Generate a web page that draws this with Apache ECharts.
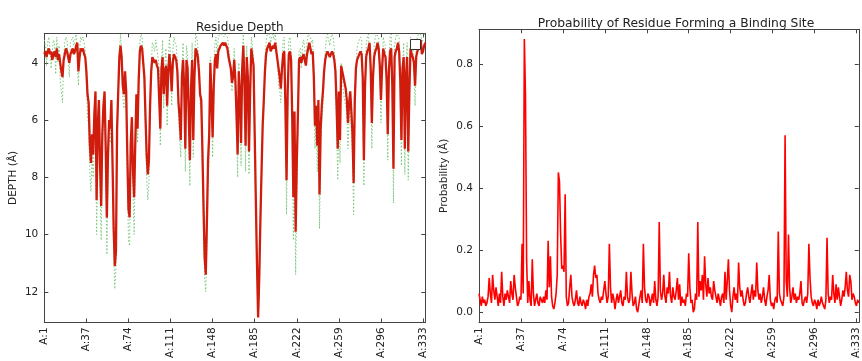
<!DOCTYPE html>
<html>
<head>
<meta charset="utf-8">
<script src="https://cdn.jsdelivr.net/npm/echarts@6/dist/echarts.min.js"></script>
<style>html,body{margin:0;padding:0;background:#fff}#c{width:862px;height:361px}</style>
</head>
<body>
<div id="c"></div>
<script>
// Residue depth (red solid line), index 0..335
const depthMain = [
3.7,3.6,3.8,3.6,3.5,3.7,3.6,3.9,3.7,3.6,
3.8,3.5,3.9,3.7,4.0,4.3,4.5,3.9,3.7,3.5,
3.6,3.8,4.0,3.7,3.6,3.5,3.7,3.6,3.4,3.3,
4.3,3.8,3.5,3.6,3.5,3.7,3.8,4.3,5.1,5.4,
6.8,7.5,6.5,7.2,5.8,5.0,8.8,6.2,5.3,7.5,
9.0,6.5,5.5,5.0,7.0,9.4,7.2,6.0,6.3,5.3,
7.5,9.8,11.1,10.6,6.3,5.0,3.8,3.4,3.8,4.8,
5.1,4.3,5.0,7.2,9.1,9.4,6.8,5.9,7.8,8.7,
6.8,5.1,6.3,4.6,3.6,3.4,3.5,4.0,4.5,5.9,
7.2,7.9,7.4,5.5,4.3,3.8,3.9,4.0,3.9,4.1,
4.2,4.2,6.3,4.2,3.8,5.1,4.3,4.1,5.5,4.3,
3.7,4.2,5.0,4.0,3.7,3.8,3.9,4.3,5.4,5.9,
6.7,4.5,3.9,4.8,7.0,3.9,4.2,5.8,7.4,4.9,
3.9,6.7,4.5,3.5,3.6,3.8,4.3,5.1,5.3,7.0,
9.0,10.8,11.4,9.5,7.4,6.5,4.0,5.2,6.6,4.8,
3.9,3.7,4.2,3.6,3.5,3.4,3.4,3.3,3.4,3.3,
3.4,3.5,3.8,4.0,4.2,4.7,4.5,3.9,4.6,5.8,
7.2,4.3,5.0,6.8,4.2,3.4,4.8,6.9,3.8,4.5,
7.1,5.0,3.5,3.8,4.1,6.5,8.8,11.0,12.9,11.5,
9.5,7.8,6.2,5.3,4.3,3.7,3.5,3.4,3.3,3.6,
3.5,3.4,3.5,3.3,3.6,3.9,4.2,4.5,4.9,4.2,
3.7,3.6,5.5,8.1,5.0,3.7,3.6,3.9,5.9,8.7,
5.7,9.9,7.5,5.8,3.9,3.8,4.0,3.8,3.7,3.9,
4.1,3.7,3.5,3.3,3.5,3.7,3.6,4.5,6.2,5.5,
6.9,5.3,8.6,6.3,5.5,5.0,4.3,3.9,3.7,3.6,
3.7,3.8,3.7,3.6,3.7,3.9,4.3,5.5,7.0,5.0,
6.7,4.1,4.3,4.5,4.7,4.9,5.3,6.1,5.4,5.0,
5.7,6.5,8.2,5.3,4.2,3.9,3.8,3.7,3.6,3.7,
4.5,7.4,4.8,3.8,3.6,3.5,3.3,4.2,6.1,4.5,
3.8,3.6,3.5,3.3,3.5,4.1,5.3,4.2,3.5,3.7,
3.8,4.6,6.5,4.3,3.6,3.5,4.8,7.7,3.8,3.6,
3.5,3.3,3.6,4.6,6.7,4.2,3.8,7.0,4.5,3.8,
7.1,5.0,3.5,3.7,3.8,4.0,4.8,3.8,3.6,3.5,
3.4,3.2,3.7,3.6,3.4,3.3
];
// Second depth measure (green dotted line)
const depthAlt = [
3.2,3.4,4.1,3.3,3.1,3.5,4.2,3.6,3.2,3.3,
4.4,3.1,4.0,3.4,4.6,5.0,5.4,3.8,3.3,3.1,
3.2,3.9,4.5,3.3,3.2,3.1,3.4,3.2,3.0,3.0,
4.8,3.5,3.1,3.2,3.1,3.3,3.6,4.6,5.9,6.2,
7.8,8.5,7.2,8.0,6.2,5.3,10.0,6.8,5.6,8.4,
10.2,7.2,5.8,5.2,7.8,10.7,8.0,6.5,6.8,5.5,
8.2,10.6,11.9,11.2,6.8,5.3,3.6,3.0,3.6,5.2,
5.6,4.4,5.5,8.0,10.2,10.4,7.5,6.2,8.6,10.0,
7.4,5.3,6.8,4.8,3.3,3.0,3.1,3.9,4.8,6.5,
8.0,8.8,8.2,5.8,4.2,3.3,3.4,3.6,3.2,3.5,
3.8,4.2,6.9,4.0,3.2,5.6,4.0,3.5,6.2,4.0,
3.1,3.8,5.5,3.6,3.1,3.3,3.4,4.0,5.9,6.6,
7.3,4.4,3.3,5.0,7.8,3.4,3.8,6.4,8.3,5.0,
3.3,7.3,4.4,3.0,3.1,3.4,4.0,5.4,5.7,7.8,
10.0,11.5,12.0,10.2,8.2,7.0,3.8,5.5,7.3,4.6,
3.3,3.1,3.8,3.1,3.0,3.0,3.0,3.0,3.1,3.0,
3.0,3.1,3.4,3.8,4.2,5.0,4.6,3.5,4.9,6.4,
8.0,4.0,5.4,7.6,3.9,3.0,5.1,7.8,3.4,4.8,
7.9,5.3,3.1,3.4,3.9,7.0,9.5,11.5,12.8,12.0,
10.0,8.2,6.5,5.5,4.0,3.3,3.0,3.0,3.0,3.3,
3.1,3.0,3.2,3.0,3.3,3.9,4.8,5.0,5.4,4.3,
3.2,3.1,6.0,9.3,5.3,3.2,3.1,3.6,6.6,10.2,
6.3,11.4,8.5,6.4,3.6,3.5,4.2,3.4,3.2,3.5,
4.0,3.3,3.0,3.0,3.1,3.3,3.2,4.9,7.0,6.0,
7.8,5.8,9.8,7.0,6.0,5.5,4.5,3.5,3.2,3.0,
3.2,3.4,3.1,3.0,3.1,3.5,4.8,6.2,8.1,5.4,
7.5,4.0,4.5,5.0,5.3,5.5,5.8,7.0,6.0,5.4,
6.4,7.3,9.3,5.8,4.4,3.5,3.3,3.2,3.1,3.2,
4.9,8.3,5.2,3.4,3.1,3.0,3.0,4.5,7.0,4.8,
3.4,3.1,3.0,3.0,3.1,4.3,6.1,4.5,3.1,3.3,
3.4,5.0,7.4,4.4,3.1,3.0,5.2,8.9,3.4,3.1,
3.0,3.0,3.1,5.0,7.6,4.3,3.3,7.9,4.8,3.3,
8.1,5.4,3.1,3.3,3.4,4.2,5.5,3.4,3.1,3.0,
3.0,3.0,3.3,3.2,3.0,3.0
];
// Binding-site probability (red line, right panel)
const probability = [
0.06,0.04,0.02,0.05,0.03,0.04,0.02,0.03,0.05,0.11,
0.06,0.03,0.12,0.07,0.04,0.08,0.05,0.02,0.06,0.03,
0.13,0.05,0.02,0.06,0.04,0.07,0.05,0.03,0.10,0.06,
0.04,0.12,0.08,0.05,0.02,0.03,0.05,0.04,0.22,0.06,
0.88,0.70,0.17,0.03,0.10,0.04,0.02,0.17,0.06,0.02,
0.04,0.06,0.03,0.02,0.05,0.04,0.03,0.05,0.03,0.07,
0.04,0.23,0.08,0.18,0.05,0.02,0.01,0.03,0.06,0.12,
0.45,0.42,0.25,0.14,0.15,0.13,0.38,0.05,0.02,0.03,
0.08,0.12,0.05,0.03,0.02,0.04,0.07,0.03,0.02,0.05,
0.03,0.02,0.04,0.03,0.01,0.04,0.02,0.05,0.06,0.09,
0.05,0.12,0.15,0.11,0.12,0.06,0.04,0.03,0.05,0.04,
0.07,0.10,0.06,0.03,0.05,0.22,0.08,0.03,0.06,0.04,
0.01,0.04,0.06,0.03,0.05,0.07,0.03,0.02,0.05,0.04,
0.13,0.05,0.03,0.04,0.13,0.06,0.02,0.03,0.05,0.01,
0.00,0.00,0.05,0.07,0.03,0.22,0.08,0.04,0.03,0.06,
0.05,0.02,0.04,0.06,0.03,0.10,0.04,0.02,0.05,0.29,
0.07,0.04,0.06,0.12,0.05,0.03,0.08,0.06,0.13,0.05,
0.03,0.08,0.05,0.04,0.07,0.11,0.04,0.09,0.02,0.05,
0.03,0.04,0.02,0.06,0.05,0.19,0.08,0.03,0.04,0.00,
0.01,0.06,0.04,0.29,0.05,0.10,0.07,0.12,0.04,0.18,
0.09,0.05,0.11,0.06,0.08,0.05,0.04,0.10,0.07,0.05,
0.03,0.06,0.04,0.02,0.05,0.06,0.03,0.13,0.04,0.10,
0.17,0.07,0.02,0.00,0.05,0.08,0.04,0.06,0.03,0.16,
0.08,0.05,0.07,0.04,0.02,0.03,0.06,0.08,0.05,0.03,
0.06,0.09,0.04,0.07,0.05,0.16,0.07,0.04,0.06,0.03,
0.05,0.08,0.04,0.02,0.05,0.07,0.12,0.04,0.02,0.03,
0.01,0.04,0.05,0.03,0.26,0.06,0.04,0.03,0.02,0.05,
0.57,0.10,0.05,0.25,0.08,0.03,0.05,0.08,0.04,0.06,
0.03,0.05,0.04,0.06,0.10,0.03,0.02,0.04,0.05,0.03,
0.06,0.22,0.11,0.05,0.03,0.02,0.04,0.03,0.01,0.04,
0.02,0.03,0.05,0.03,0.02,0.01,0.04,0.24,0.06,0.03,
0.05,0.04,0.12,0.06,0.03,0.09,0.04,0.08,0.05,0.02,
0.04,0.07,0.05,0.08,0.13,0.07,0.05,0.12,0.10,0.04,
0.06,0.05,0.03,0.02,0.04,0.03
];
const xTickPositions = [0, 37, 74, 111, 148, 185, 222, 259, 296, 333];
const xTickLabels = ['A:1','A:37','A:74','A:111','A:148','A:185','A:222','A:259','A:296','A:333'];
const depthTicks = [4, 6, 8, 10, 12];
const probTicks = [0, 0.2, 0.4, 0.6, 0.8];
const probTickLabels = ['0.0', '0.2', '0.4', '0.6', '0.8'];

const FONT = 'DejaVu Sans';
const axisCol = '#444';
const pairs = arr => arr.map((v, i) => [i, v]);

function xAx(gridIndex, pos, showLabels) {
  return {
    type: 'value', gridIndex, position: pos, min: 0, max: 335,
    axisLine: { show: true, onZero: false, lineStyle: { color: axisCol, width: 1 } },
    axisTick: { show: true, inside: true, length: 4, customValues: xTickPositions, lineStyle: { color: axisCol } },
    axisLabel: showLabels ? {
      show: true, rotate: 90, fontFamily: FONT, fontSize: 10.5, color: '#222', margin: 5,
      customValues: xTickPositions,
      formatter: v => { const k = xTickPositions.indexOf(v); return k >= 0 ? xTickLabels[k] : ''; }
    } : { show: false },
    splitLine: { show: false }
  };
}
function yAx(gridIndex, pos, min, max, ticks, labels, name, nameGap, inverse) {
  return {
    type: 'value', gridIndex, position: pos, min, max, inverse: !!inverse,
    name: name || '', nameLocation: 'middle', nameGap: nameGap || 0,
    nameTextStyle: { fontFamily: FONT, fontSize: 10.5, color: '#222' },
    axisLine: { show: true, onZero: false, lineStyle: { color: axisCol, width: 1 } },
    axisTick: { show: true, inside: true, length: 4, customValues: ticks, lineStyle: { color: axisCol } },
    axisLabel: labels ? {
      show: true, fontFamily: FONT, fontSize: 10.5, color: '#222', margin: 6,
      customValues: ticks,
      formatter: v => { const k = ticks.indexOf(v); return k >= 0 ? labels[k] : ''; }
    } : { show: false },
    splitLine: { show: false }
  };
}

const chart = echarts.init(document.getElementById('c'), null, { renderer: 'canvas' });
chart.setOption({
  animation: false,
  backgroundColor: '#fff',
  title: [
    { text: 'Residue Depth', left: 234.8, top: 17, textAlign: 'center',
      textStyle: { fontFamily: FONT, fontSize: 12, fontWeight: 'normal', color: '#222' } },
    { text: 'Probability of Residue Forming a Binding Site', left: 671, top: 13, textAlign: 'center',
      textStyle: { fontFamily: FONT, fontSize: 12.3, fontWeight: 'normal', color: '#222' } }
  ],
  grid: [
    { left: 44.3, top: 33.3, width: 381, height: 294.7 },
    { left: 479, top: 29.3, width: 383.5, height: 298.7 }
  ],
  xAxis: [
    xAx(0, 'bottom', true),
    xAx(0, 'top', false),
    xAx(1, 'bottom', true),
    xAx(1, 'top', false)
  ],
  yAxis: [
    yAx(0, 'left', 2.97, 13.07, depthTicks, depthTicks.map(String), 'DEPTH (Å)', 26, true),
    yAx(0, 'right', 2.97, 13.07, depthTicks, null, '', 0, true),
    yAx(1, 'left', -0.033, 0.911, probTicks, probTickLabels, 'Probability (Å)', 29, false),
    yAx(1, 'right', -0.033, 0.911, probTicks, null, '', 0, false)
  ],
  series: [
    { type: 'line', xAxisIndex: 0, yAxisIndex: 0, data: pairs(depthAlt), showSymbol: false,
      lineStyle: { color: '#7cc67c', width: 1, type: [1.5, 2] }, z: 2 },
    { type: 'line', xAxisIndex: 0, yAxisIndex: 0, data: pairs(depthMain), showSymbol: false,
      lineStyle: { color: '#d01c0c', width: 2.3 }, z: 3 },
    { type: 'line', xAxisIndex: 2, yAxisIndex: 2, data: pairs(probability), showSymbol: false,
      lineStyle: { color: '#ff0000', width: 1.6 }, z: 3 }
  ],
  graphic: [
    { type: 'rect', shape: { x: 410.5, y: 39.5, width: 10, height: 10 },
      style: { fill: '#fff', stroke: '#333', lineWidth: 1 }, z: 100 }
  ]
});
</script>
</body>
</html>
